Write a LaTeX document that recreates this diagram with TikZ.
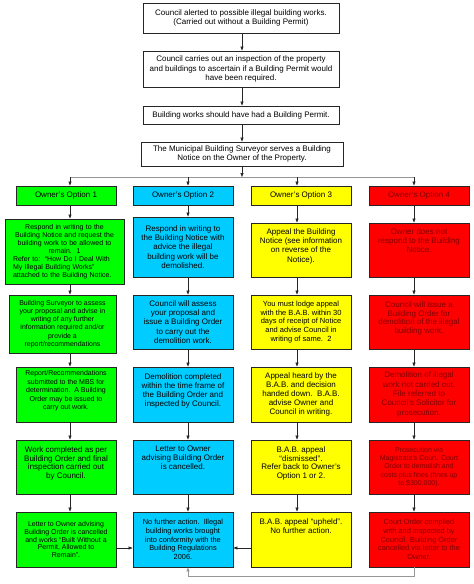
\documentclass[tikz,border=0pt]{standalone}
\usepackage{fontspec}
\setmainfont{Liberation Sans}
\usetikzlibrary{arrows.meta}
\definecolor{optgreen}{RGB}{0,255,0}
\definecolor{optcyan}{RGB}{0,204,255}
\definecolor{optyellow}{RGB}{255,255,0}
\definecolor{optred}{RGB}{255,0,0}
\definecolor{redtext}{RGB}{130,0,0}
\definecolor{linegray}{RGB}{150,150,150}
\newcommand{\fs}[2]{\fontsize{#1}{#2}\selectfont}
\tikzset{
  box/.style={draw=black!85, line width=0.8pt, inner sep=0pt, align=center, font=\fs{8}{9.3}},
  topbox/.style={box, fill=white, font=\fs{8}{9.5}},
  gbox/.style={box, fill=optgreen},
  cbox/.style={box, fill=optcyan},
  ybox/.style={box, fill=optyellow},
  rbox/.style={box, fill=optred, text=redtext},
  arr/.style={draw=black!85, line width=0.7pt, -{Triangle[length=4pt,width=3pt]}},
  grayline/.style={draw=linegray, line width=0.7pt},
  grayarr/.style={grayline, -{Triangle[length=4pt,width=3pt]}, }
}
\begin{document}
\begin{tikzpicture}[x=1pt,y=-1pt]
\useasboundingbox[fill=white] (0,0) rectangle (474,584);
% column arrow x positions
\coordinate (x1) at (70,0);
\coordinate (x2) at (188,0);
\coordinate (x3) at (297,0);
\coordinate (x4) at (414,0);
\coordinate (xm) at (242,0);
\coordinate (jn) at (242,177);
\coordinate (bl) at (414,576);
\coordinate (br) at (188,576);
% top boxes
\node[topbox, minimum width=196pt, minimum height=30pt] (t1) at (241,18)
  {Council alerted to possible illegal building works.\\(Carried out without a Building Permit)};
\node[topbox, minimum width=196pt, minimum height=36pt] (t2) at (241,69)
  {Council carries out an inspection of the property\\and buildings to ascertain if a Building Permit would\\have been required.};
\node[topbox, minimum width=196pt, minimum height=18pt] (t3) at (241,115)
  {Building works should have had a Building Permit.};
\node[topbox, minimum width=202pt, minimum height=24pt] (t4) at (242,154)
  {The Municipal Building Surveyor serves a Building\\Notice on the Owner of the Property.};
% option boxes
\node[gbox, minimum width=100pt, minimum height=19pt] (o1) at (66,195.5) {Owner’s Option 1};
\node[cbox, minimum width=100pt, minimum height=19pt] (o2) at (183,195.5) {Owner’s Option 2};
\node[ybox, minimum width=100pt, minimum height=19pt] (o3) at (301,195.5) {Owner’s Option 3};
\node[rbox, minimum width=100pt, minimum height=19pt] (o4) at (419,195.5) {Owner’s Option 4};
% column 1
\node[gbox, minimum width=119pt, minimum height=65pt, text width=103pt, font=\fs{7}{8}] (a2) at (64.5,251.5)
  {Respond in writing to the\\Building Notice and request the\\building work to be allowed to\\remain.\ \ 1\\
   \makebox[103pt][l]{Refer to:\ \ “How Do I Deal With}\\
   \makebox[103pt][l]{My Illegal Building Works”}\\
   \makebox[103pt][l]{attached to the Building Notice.}};
\node[gbox, minimum width=107pt, minimum height=58pt, font=\fs{7}{8.2}] (a3) at (62.5,324)
  {Building Surveyor to assess\\your proposal and advise in\\writing of any further\\information required and/or\\provide a\\report/recommendations};
\node[gbox, minimum width=100pt, minimum height=55pt, font=\fs{7}{8.5}] (a4) at (66,394.5)
  {Report/Recommendations\\submitted to the MBS for\\determination.\ \ A Building\\Order may be issued to\\carry out work.\\\mbox{}};
\node[gbox, minimum width=100pt, minimum height=54pt, font=\fs{8}{8.9}] (a5) at (66,467)
  {Work completed as per\\Building Order and final\\inspection carried out\\by Council.\\\mbox{}};
\node[gbox, minimum width=100pt, minimum height=55pt, font=\fs{7}{7.9}] (a6) at (66,539.5)
  {Letter to Owner advising\\Building Order is cancelled\\and works “Built Without a\\Permit, Allowed to\\Remain”.};
% column 2
\node[cbox, minimum width=100pt, minimum height=60pt] (b2) at (183,247)
  {Respond in writing to\\the Building Notice with\\advice the illegal\\building work will be\\demolished.};
\node[cbox, minimum width=100pt, minimum height=54pt, font=\fs{8}{9.2}] (b3) at (183,322)
  {Council will assess\\your proposal and\\issue a Building Order\\to carry out the\\demolition work.};
\node[cbox, minimum width=100pt, minimum height=55pt, font=\fs{8}{9.2}] (b4) at (183,394.5)
  {Demolition completed\\within the time frame of\\the Building Order and\\inspected by Council.\\\mbox{}};
\node[cbox, minimum width=100pt, minimum height=54pt, font=\fs{8}{9}] (b5) at (183,467)
  {Letter to Owner\\advising Building Order\\is cancelled.\\\mbox{}\\\mbox{}};
\node[cbox, minimum width=100pt, minimum height=55pt, font=\fs{7.4}{8.7}] (b6) at (183,539.5)
  {No further action.\ \ Illegal\\building works brought\\into conformity with the\\Building Regulations\\2006.};
% column 3
\node[ybox, minimum width=100pt, minimum height=54pt, font=\fs{8}{9.2}] (c2) at (301,250)
  {Appeal the Building\\Notice (see information\\on reverse of the\\Notice).\\\mbox{}};
\node[ybox, minimum width=100pt, minimum height=54pt, font=\fs{7.5}{8.6}] (c3) at (301,322)
  {You must lodge appeal\\with the B.A.B. within 30\\days of receipt of Notice\\and advise Council in\\writing of same.\ \ 2};
\node[ybox, minimum width=100pt, minimum height=55pt, font=\fs{8}{9.2}] (c4) at (301,394.5)
  {Appeal heard by the\\B.A.B. and decision\\handed down.\ \ B.A.B.\\advise Owner and\\Council in writing.};
\node[ybox, minimum width=100pt, minimum height=54pt, font=\fs{8}{8.9}] (c5) at (301,467)
  {B.A.B. appeal\\“dismissed”.\\Refer back to Owner’s\\Option 1 or 2.\\\mbox{}};
\node[ybox, minimum width=100pt, minimum height=55pt, font=\fs{8}{8.8}] (c6) at (301,539.5)
  {B.A.B. appeal “upheld”.\\No further action.\\\mbox{}\\\mbox{}\\\mbox{}};
% column 4
\node[rbox, minimum width=100pt, minimum height=54pt, font=\fs{8}{9.3}] (d2) at (419,250)
  {Owner does not\\respond to the Building\\Notice.\\\mbox{}\\\mbox{}};
\node[rbox, minimum width=100pt, minimum height=54pt, font=\fs{8}{8.8}] (d3) at (419,322)
  {Council will issue a\\Building Order for\\demolition of the illegal\\building work.\\\mbox{}};
\node[rbox, minimum width=100pt, minimum height=55pt, font=\fs{8}{9.3}] (d4) at (419,394.5)
  {Demolition of illegal\\work not carried out.\\File referred to\\Council’s Solicitor for\\prosecution.};
\node[rbox, minimum width=100pt, minimum height=54pt, font=\fs{7}{8.2}] (d5) at (419,467)
  {Prosecution via\\Magistrate’s Court. Court\\Order to demolish and\\costs plus fines (fines up\\to \$300,000).};
\node[rbox, minimum width=100pt, minimum height=55pt, font=\fs{7.4}{8.7}] (d6) at (419,539.5)
  {Court Order complied\\with and inspected by\\Council. Building Order\\cancelled via letter to the\\Owner.};
% top arrows
\draw[arr] (t1.south -| xm) -- (t2.north -| xm);
\draw[arr] (t2.south -| xm) -- (t3.north -| xm);
\draw[arr] (t3.south -| xm) -- (t4.north -| xm);
\draw[arr] (t4.south -| xm) -- (jn);
\draw[grayline] (jn -| x1) -- (jn -| x4);
\foreach \c/\o in {x1/o1,x2/o2,x3/o3,x4/o4}
  \draw[arr] (jn -| \c) -- (\o.north -| \c);
% column arrows
\foreach \c/\p/\q in {x1/o1/a2,x1/a2/a3,x1/a3/a4,x1/a4/a5,x1/a5/a6,
                      x2/o2/b2,x2/b2/b3,x2/b3/b4,x2/b4/b5,x2/b5/b6,
                      x3/o3/c2,x3/c2/c3,x3/c3/c4,x3/c4/c5,x3/c5/c6,
                      x4/o4/d2,x4/d2/d3,x4/d3/d4,x4/d4/d5,x4/d5/d6}
  \draw[arr] (\p.south -| \c) -- (\q.north -| \c);
% bottom connectors
\coordinate (ry) at (0,548);
\draw[arr] (a6.east |- ry) -- (b6.west |- ry);
\draw[arr] (c6.west |- ry) -- (b6.east |- ry);
\draw[grayarr] (d6.south -| x4) -- (bl) -- (br) -- (b6.south -| x2);
\end{tikzpicture}
\end{document}
